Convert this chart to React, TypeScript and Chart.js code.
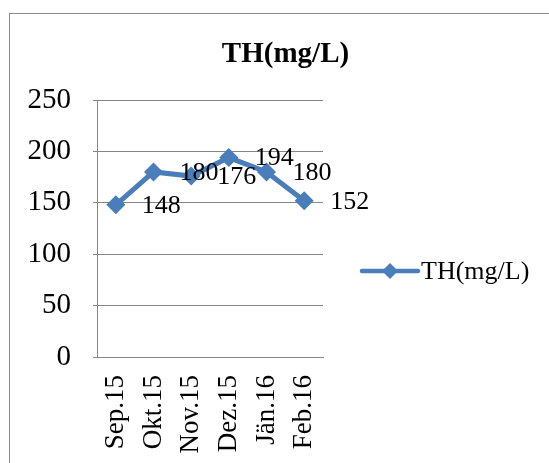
import React, { useEffect, useRef } from 'react';
import { Chart, registerables } from 'chart.js';

Chart.register(...registerables);

const categories = ['Sep.15', 'Okt.15', 'Nov.15', 'Dez.15', 'Jän.16', 'Feb.16'];
const thValues = [148, 180, 176, 194, 180, 152];
const seriesName = 'TH(mg/L)';
const titleText = 'TH(mg/L)';
const yMin = 0;
const yMax = 250;
const yStep = 50;

const LINE_COLOR = '#4A7EBB';
const GRID_COLOR = '#868686';
const FONT = "'Liberation Serif', 'Times New Roman', serif";

function drawDiamond(ctx: CanvasRenderingContext2D, x: number, y: number, r: number) {
  ctx.beginPath();
  ctx.moveTo(x - r, y);
  ctx.lineTo(x, y - r);
  ctx.lineTo(x + r, y);
  ctx.lineTo(x, y + r);
  ctx.closePath();
  ctx.fill();
}

const decorations = {
  id: 'decorations',
  beforeDraw(chart: any) {
    const ctx = chart.ctx;
    ctx.save();
    ctx.fillStyle = '#ffffff';
    ctx.fillRect(0, 0, chart.width, chart.height);
    ctx.strokeStyle = '#8a8a8a';
    ctx.lineWidth = 1;
    ctx.strokeRect(9.5, 13.5, 700, 700);
    // title
    ctx.fillStyle = '#000';
    ctx.font = `bold 29px ${FONT}`;
    ctx.textAlign = 'center';
    ctx.textBaseline = 'middle';
    ctx.fillText(titleText, 285.5, 55);
    ctx.restore();
  },
  afterDatasetsDraw(chart: any) {
    const ctx = chart.ctx;
    const meta = chart.getDatasetMeta(0);
    const ds = chart.data.datasets[0];
    ctx.save();
    ctx.fillStyle = '#000';
    ctx.font = `26px ${FONT}`;
    ctx.textAlign = 'left';
    ctx.textBaseline = 'middle';
    meta.data.forEach((pt: any, i: number) => {
      ctx.fillText(String(ds.data[i]), pt.x + 26, pt.y + 1);
    });
    // legend
    const area = chart.chartArea;
    const ly = 271;
    const lx0 = area.right + 39;
    const lx1 = lx0 + 56;
    ctx.strokeStyle = ds.borderColor;
    ctx.lineWidth = 4.5;
    ctx.lineCap = 'round';
    ctx.beginPath();
    ctx.moveTo(lx0, ly);
    ctx.lineTo(lx1, ly);
    ctx.stroke();
    ctx.fillStyle = ds.borderColor;
    drawDiamond(ctx, (lx0 + lx1) / 2, ly, 8);
    ctx.fillStyle = '#000';
    ctx.font = `26px ${FONT}`;
    ctx.fillText(ds.label, lx1 + 3, ly + 1);
    ctx.restore();
  },
};

export default function App() {
  const ref = useRef<HTMLCanvasElement>(null);
  useEffect(() => {
    if (!ref.current) return;
    const chart = new Chart(ref.current, {
      type: 'line',
      data: {
        labels: categories,
        datasets: [
          {
            label: seriesName,
            data: thValues,
            borderColor: LINE_COLOR,
            backgroundColor: LINE_COLOR,
            borderWidth: 5,
            pointStyle: 'rectRot',
            pointRadius: 9.5,
            pointBorderWidth: 0,
            pointBackgroundColor: LINE_COLOR,
            tension: 0,
          },
        ],
      },
      options: {
        responsive: false,
        animation: false,
        layout: { padding: { left: 10, right: 226, top: 100, bottom: 0 } },
        plugins: {
          title: { display: false },
          legend: { display: false },
          tooltip: { enabled: false },
        },
        scales: {
          x: {
            offset: true,
            afterFit: (scale: any) => {
              scale.height = 106;
            },
            grid: { display: false, offset: true },
            border: { display: true, color: GRID_COLOR, width: 1 },
            ticks: {
              color: '#000',
              font: { family: FONT, size: 27 },
              minRotation: 90,
              maxRotation: 90,
              padding: 10,
              autoSkip: false,
            },
          },
          y: {
            min: yMin,
            max: yMax,
            afterFit: (scale: any) => {
              scale.width = 87;
            },
            grid: { color: GRID_COLOR, lineWidth: 1, tickLength: 4 },
            border: { display: true, color: GRID_COLOR, width: 1 },
            ticks: {
              stepSize: yStep,
              color: '#000',
              font: { family: FONT, size: 29 },
              padding: 22,
            },
          },
        },
      },
      plugins: [decorations],
    });
    return () => chart.destroy();
  }, []);
  return (
    <div style={{ position: 'absolute', left: 0, top: 0, width: 549, height: 463, overflow: 'hidden' }}>
      <canvas ref={ref} width={549} height={463} style={{ display: 'block' }} />
    </div>
  );
}
